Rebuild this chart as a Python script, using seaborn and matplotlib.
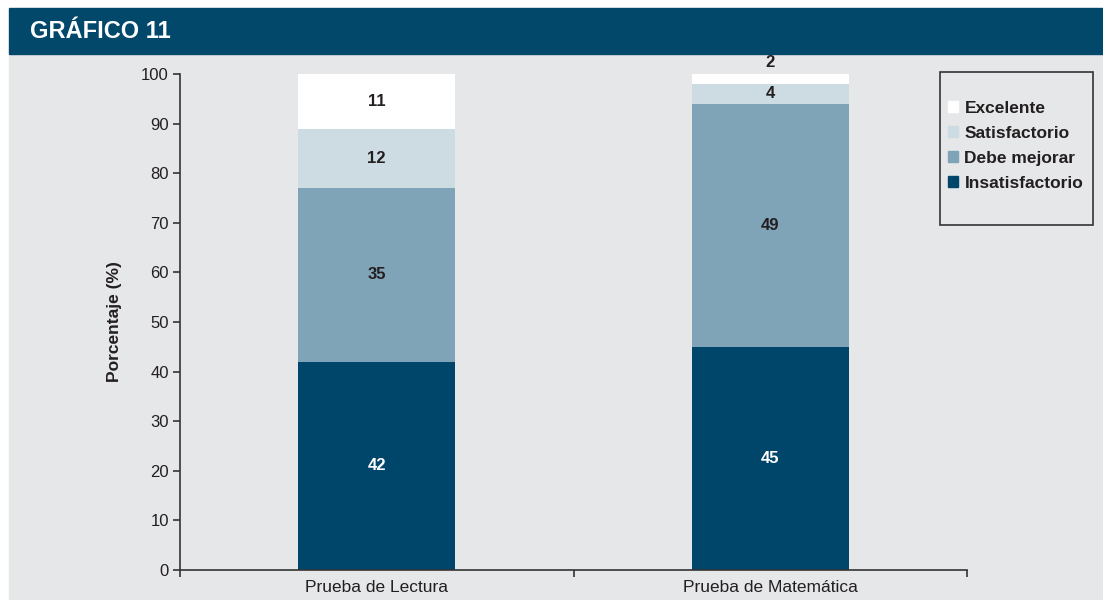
import matplotlib
matplotlib.use("Agg")
import matplotlib.pyplot as plt
import matplotlib.patches as mpatches
import seaborn as sns
import pandas as pd

# data
pruebas = ["Prueba de Lectura", "Prueba de Matemática"]
niveles = ["Insatisfactorio", "Debe mejorar", "Satisfactorio", "Excelente"]
insatisfactorio = [42, 45]
debe_mejorar = [35, 49]
satisfactorio = [12, 4]
excelente = [11, 2]

colores = ["#00466a", "#7fa3b7", "#cddce3", "#ffffff"]
fondo = "#e6e7e9"
texto = "#231f20"

sns.set_style("ticks")
plt.rcParams['font.family'] = ['Liberation Sans', 'DejaVu Sans']

fig = plt.figure(figsize=(11.03, 6.0), dpi=100, facecolor="white")
# gray panel + header band (behind the axes)
fig.patches.append(mpatches.Rectangle((9 / 1103, 0), 1 - 9 / 1103, 1 - 54 / 600,
                                      transform=fig.transFigure, color=fondo, zorder=-2))
fig.patches.append(mpatches.Rectangle((9 / 1103, 1 - 54 / 600), 1 - 9 / 1103, 46 / 600,
                                      transform=fig.transFigure, color="#02486b", zorder=-2))
fig.text(30 / 1103, 1 - 31 / 600, "GRÁFICO 11", color="white", fontsize=17,
         fontweight="bold", va="center", ha="left")

ax = fig.add_axes([180 / 1103, 30 / 600, 787 / 1103, 496 / 600])
ax.set_facecolor(fondo)

series = [insatisfactorio, debe_mejorar, satisfactorio, excelente]
df = pd.DataFrame({"prueba": pruebas})
base = [0, 0]
for nivel, vals, col in zip(niveles, series, colores):
    df[nivel] = vals
    sns.barplot(data=df, x="prueba", y=nivel, color=col, width=0.4, bottom=base,
                ax=ax, saturation=1, linewidth=0)
    for i, v in enumerate(vals):
        if v >= 3:
            ypos = base[i] + v / 2
        else:
            ypos = base[i] + v + 2.3
        ax.text(i, ypos, str(v), ha="center", va="center", fontsize=12,
                fontweight="bold", color="white" if col == colores[0] else texto,
                clip_on=False)
    base = [b + v for b, v in zip(base, vals)]

ax.set_xlim(-0.5, 1.5)
ax.set_ylim(0, 100)
ax.set_yticks(range(0, 101, 10))
ax.set_xlabel("")
ax.set_ylabel("Porcentaje (%)", fontsize=12.5, fontweight="bold", color=texto)
ax.yaxis.set_label_coords(-0.074, 0.5)
ax.set_xticks([-0.5, 0.5, 1.5], minor=True)
ax.tick_params(axis="x", which="major", bottom=False, length=0, labelsize=12.5,
               labelcolor=texto, pad=7)
ax.tick_params(axis="x", which="minor", bottom=True, length=5, width=1.2,
               color="#333333", direction="out")
ax.tick_params(axis="y", left=True, length=5, width=1.2, color="#333333", direction="out",
               labelsize=12, labelcolor=texto, pad=3)
sns.despine(ax=ax)
for s in ["left", "bottom"]:
    ax.spines[s].set_color("#333333")
    ax.spines[s].set_linewidth(1.2)

# legend: drawn box + frameless legend
fig.patches.append(mpatches.Rectangle((940 / 1103, 1 - 225 / 600), 153 / 1103, 153 / 600,
                                      transform=fig.transFigure, facecolor="none",
                                      edgecolor="#333333", linewidth=1.2, zorder=1))
handles = [mpatches.Patch(color=c, label=n) for n, c in zip(niveles, colores)][::-1]
leg = fig.legend(handles=handles, loc="upper left", bbox_to_anchor=(948 / 1103, 1 - 101 / 600),
                 frameon=False, fontsize=12.5, handlelength=0.6, handleheight=0.6,
                 handletextpad=0.35, labelspacing=0.57, borderpad=0, borderaxespad=0)
for t in leg.get_texts():
    t.set_fontweight("bold")
    t.set_color(texto)

fig.savefig("out.png", dpi=100, facecolor="white")
